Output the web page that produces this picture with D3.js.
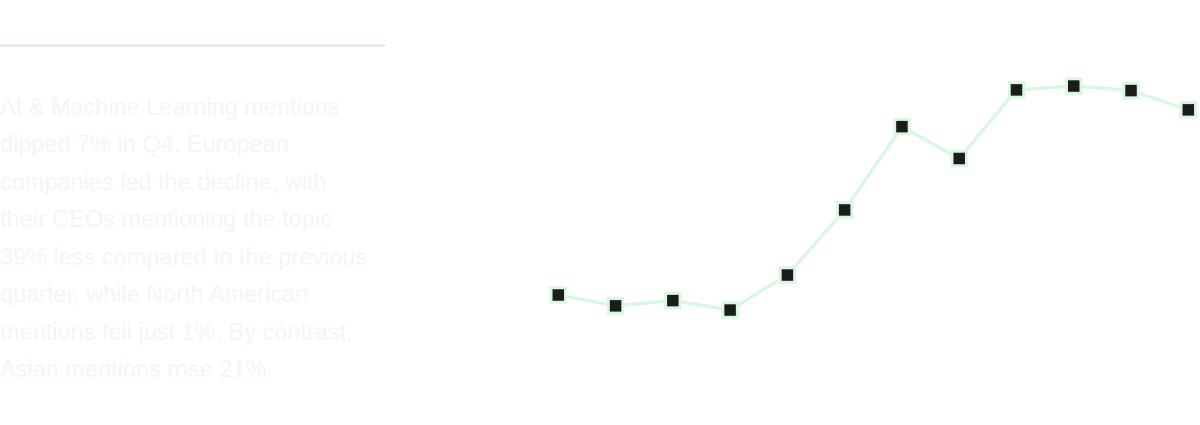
<!DOCTYPE html>
<html>
<head>
<meta charset="utf-8">
<script src="https://cdn.jsdelivr.net/npm/d3@7"></script>
<style>
  html, body { margin: 0; padding: 0; background: #ffffff; }
  svg { display: block; }
</style>
</head>
<body>
<div id="chart"></div>
<script>
// ---- Data ----
const categories = ["Q1 2022","Q2 2022","Q3 2022","Q4 2022","Q1 2023","Q2 2023","Q3 2023","Q4 2023","Q1 2024","Q2 2024","Q3 2024","Q4 2024"];
const mentions = [30.0, 26.9, 28.4, 25.7, 35.7, 54.3, 78.1, 69.0, 88.6, 89.7, 88.4, 82.9];
const summaryLines = [
  "AI & Machine Learning mentions",
  "dipped 7% in Q4. European",
  "companies led the decline, with",
  "their CEOs mentioning the topic",
  "39% less compared to the previous",
  "quarter, while North American",
  "mentions fell just 1%. By contrast,",
  "Asian mentions rose 21%."
];

// ---- Drawing ----
const W = 1200, H = 425;
const svg = d3.select("#chart").append("svg")
  .attr("width", W).attr("height", H);

// top rule
svg.append("line")
  .attr("x1", 0).attr("x2", 385)
  .attr("y1", 45.5).attr("y2", 45.5)
  .attr("stroke", "#e9e1d5").attr("stroke-width", 2);

// summary text
const txt = svg.append("text")
  .attr("x", 0)
  .attr("font-family", "'Liberation Sans', Arial, sans-serif")
  .attr("font-size", 23.5)
  .attr("fill", "#f5f5f5");
txt.selectAll("tspan").data(summaryLines).join("tspan")
  .attr("x", 0)
  .attr("y", (d, i) => 114.5 + i * 37.5)
  .text(d => d);

// chart
const x = d3.scalePoint().domain(categories).range([558.3, 1188.3]);
const y = d3.scaleLinear().domain([0, 100]).range([400, 50]);

const line = d3.line()
  .x((d, i) => x(categories[i]))
  .y(d => y(d));

svg.append("path")
  .datum(mentions)
  .attr("d", line)
  .attr("fill", "none")
  .attr("stroke", "#daf7e2")
  .attr("stroke-width", 3.5)
  .attr("stroke-linejoin", "round");

const s = 14.5;
svg.selectAll("rect.marker").data(mentions).join("rect")
  .attr("class", "marker")
  .attr("x", (d, i) => x(categories[i]) - s / 2)
  .attr("y", d => y(d) - s / 2)
  .attr("width", s).attr("height", s)
  .attr("fill", "#1c1c1c")
  .attr("stroke", "#daf7e2")
  .attr("stroke-width", 3);
</script>
</body>
</html>
